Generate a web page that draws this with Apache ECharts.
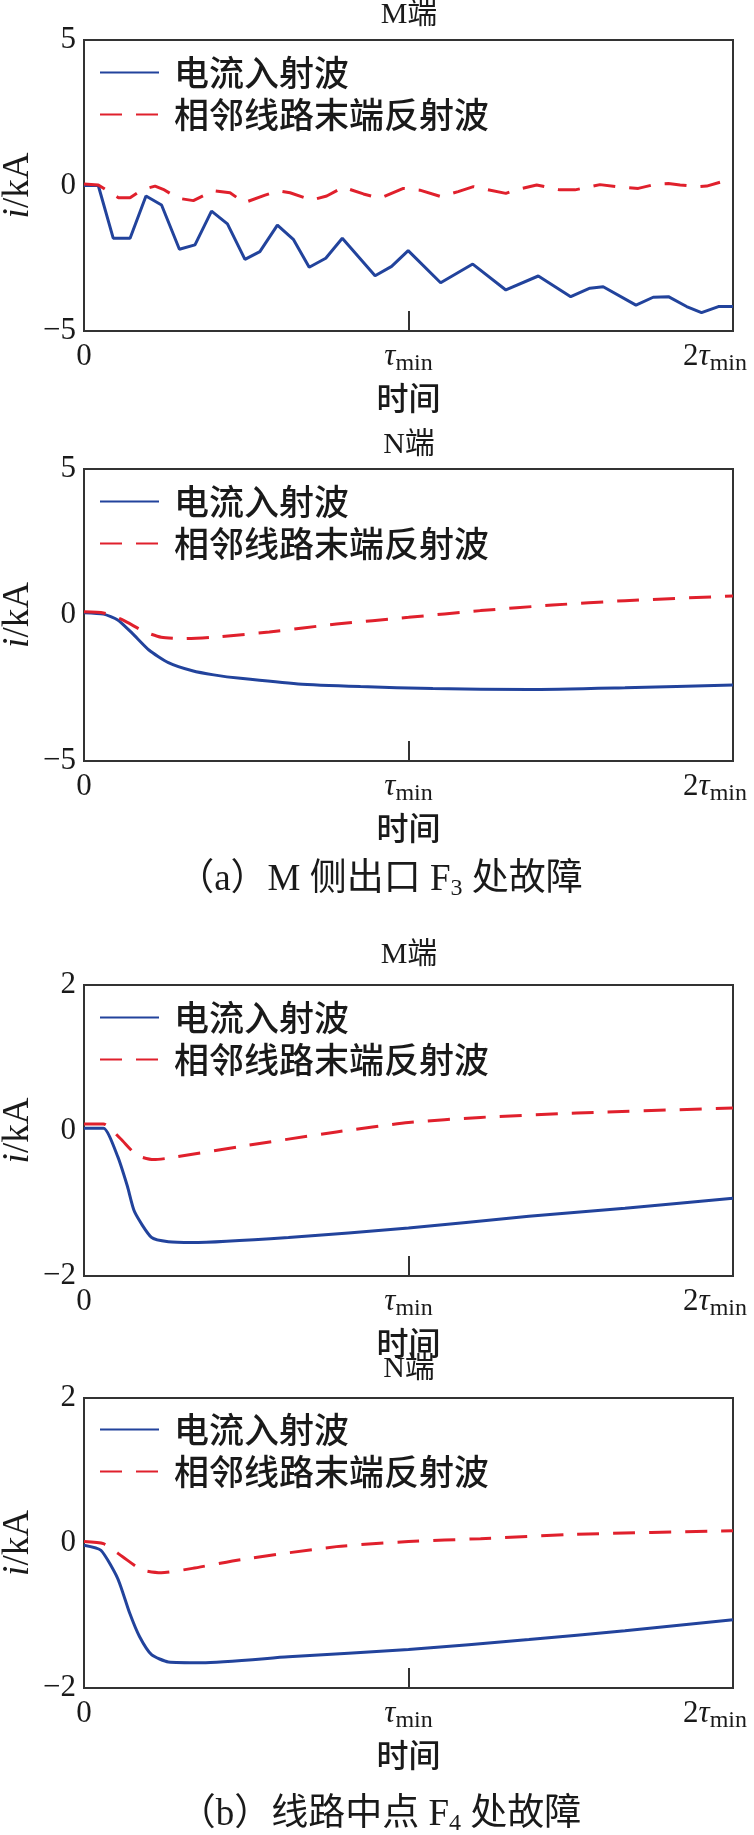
<!DOCTYPE html>
<html><head><meta charset="utf-8">
<script src="https://cdn.jsdelivr.net/npm/echarts@6/dist/echarts.min.js"></script>
<style>html,body{margin:0;padding:0;background:#fff}#c{width:754px;height:1835px}</style>
</head><body><div id="c"></div>
<script>
// ---------- data ----------
const seriesNames = ['电流入射波', '相邻线路末端反射波'];
const panelTitles = ['M端', 'N端', 'M端', 'N端'];
const captions = ['（a）M 侧出口 F{s|3} 处故障', '（b）线路中点 F{s|4} 处故障'];
const xTickValues = [0, 1, 2];
const xTickLabels = ['0', 'τmin', '2τmin'];
const yRangeA = [-5, 5];   // panels of (a)
const yRangeB = [-2, 2];   // panels of (b)
const yTickStepA = 5;
const yTickStepB = 2;

// (a) M端
const aM_inc_t = [0, 0.044, 0.090, 0.142, 0.191, 0.239, 0.294, 0.342, 0.393, 0.442, 0.496, 0.542, 0.596, 0.645, 0.694, 0.745, 0.796, 0.897, 0.948, 0.999, 1.099, 1.198, 1.300, 1.400, 1.500, 1.559, 1.600, 1.701, 1.754, 1.801, 1.857, 1.903, 1.955, 2.0];
const aM_inc_v = [0, 0, -1.81, -1.81, -0.36, -0.67, -2.19, -2.04, -0.88, -1.32, -2.54, -2.27, -1.36, -1.85, -2.81, -2.50, -1.81, -3.10, -2.78, -2.24, -3.34, -2.70, -3.59, -3.11, -3.82, -3.53, -3.48, -4.11, -3.84, -3.82, -4.16, -4.37, -4.16, -4.16];
const aM_ref_t = [0, 0.044, 0.106, 0.142, 0.178, 0.219, 0.244, 0.291, 0.337, 0.399, 0.450, 0.494, 0.558, 0.599, 0.635, 0.702, 0.748, 0.799, 0.861, 0.912, 0.984, 1.035, 1.100, 1.153, 1.200, 1.226, 1.300, 1.338, 1.395, 1.467, 1.513, 1.590, 1.641, 1.708, 1.764, 1.801, 1.837, 1.893, 1.919, 1.960];
const aM_ref_v = [0.05, 0.02, -0.42, -0.42, -0.15, -0.02, -0.13, -0.44, -0.52, -0.18, -0.25, -0.59, -0.33, -0.18, -0.25, -0.50, -0.36, -0.06, -0.29, -0.44, -0.10, -0.16, -0.38, -0.21, -0.04, -0.10, -0.27, -0.13, 0.02, -0.15, -0.15, 0.03, -0.04, -0.10, 0.05, 0.07, 0.02, -0.04, -0.02, 0.11];
// (a) N端
const aN_inc_t = [0, 0.06, 0.104, 0.149, 0.2, 0.26, 0.334, 0.40, 0.482, 0.66, 0.852, 1.075, 1.371, 1.667, 2.0];
const aN_inc_v = [0.08, 0.03, -0.17, -0.63, -1.2, -1.63, -1.91, -2.05, -2.17, -2.36, -2.45, -2.52, -2.55, -2.49, -2.40];
const aN_ref_t = [0, 0.06, 0.119, 0.186, 0.238, 0.304, 0.422, 0.571, 0.778, 1.0, 1.222, 1.444, 1.667, 2.0];
const aN_ref_v = [0.11, 0.07, -0.17, -0.57, -0.76, -0.81, -0.74, -0.58, -0.31, -0.08, 0.15, 0.34, 0.49, 0.65];
// (b) M端
const bM_inc_t = [0, 0.06, 0.104, 0.134, 0.156, 0.208, 0.26, 0.334, 0.63, 1.0, 1.371, 1.667, 2.0];
const bM_inc_v = [0.03, 0.03, -0.36, -0.77, -1.12, -1.47, -1.53, -1.54, -1.47, -1.34, -1.18, -1.07, -0.93];
const bM_ref_t = [0, 0.06, 0.112, 0.163, 0.215, 0.26, 0.482, 0.778, 1.0, 1.222, 1.519, 2.0];
const bM_ref_v = [0.09, 0.09, -0.11, -0.34, -0.40, -0.38, -0.22, -0.02, 0.11, 0.18, 0.24, 0.31];
// (b) N端
const bN_inc_t = [0, 0.052, 0.104, 0.141, 0.171, 0.208, 0.26, 0.364, 0.63, 1.0, 1.371, 1.667, 2.0];
const bN_inc_v = [-0.03, -0.10, -0.49, -0.97, -1.29, -1.54, -1.64, -1.65, -1.57, -1.47, -1.33, -1.21, -1.06];
const bN_ref_t = [0, 0.06, 0.119, 0.178, 0.238, 0.334, 0.482, 0.778, 1.0, 1.222, 1.519, 2.0];
const bN_ref_v = [0.02, -0.01, -0.19, -0.37, -0.41, -0.35, -0.23, -0.05, 0.02, 0.06, 0.12, 0.17];

// ---------- layout / style ----------
const SERIF = "'Liberation Serif','Noto Sans CJK SC',serif";
const CJK = "'Noto Sans CJK SC','Liberation Serif',sans-serif";
const TXT = '#1a1a1a';
const BLUE = '#22439c';
const RED = '#e0202c';
const grids = [
  {left: 84, top: 40, width: 649, height: 291},
  {left: 84, top: 469, width: 649, height: 292},
  {left: 84, top: 985, width: 649, height: 291},
  {left: 84, top: 1398, width: 649, height: 290}
];
const titleTops = [0, 430, 940, 1354];
const legendTops = [50, 479, 995, 1407];
const captionTops = [859, 1794];

const zip = (t, v) => t.map((x, i) => [x, v[i]]);
const panels = [
  [zip(aM_inc_t, aM_inc_v), zip(aM_ref_t, aM_ref_v)],
  [zip(aN_inc_t, aN_inc_v), zip(aN_ref_t, aN_ref_v)],
  [zip(bM_inc_t, bM_inc_v), zip(bM_ref_t, bM_ref_v)],
  [zip(bN_inc_t, bN_inc_v), zip(bN_ref_t, bN_ref_v)]
];

function xLabelRich(label, isMax) {
  const m = label.match(/^(\d*)(τ?)(min)?$/);
  let s = '';
  if (m[1]) s += '{n|' + m[1] + '}';
  if (m[2]) s += '{t|τ}';
  if (m[3]) s += (isMax ? '{mr|min}' : '{m|min}');
  return s;
}

const option = {
  animation: false,
  backgroundColor: '#fff',
  title: panelTitles.map((t, i) => ({
    text: t, left: 409, top: titleTops[i], textAlign: 'center', padding: 0,
    textStyle: {fontFamily: SERIF, fontSize: 30, fontWeight: 'normal', color: TXT, lineHeight: 30}
  })).concat(captions.map((c, i) => ({
    text: c, left: 380, top: captionTops[i], textAlign: 'center', padding: 0,
    textStyle: {fontFamily: SERIF, fontSize: 37, fontWeight: 'normal', color: TXT, lineHeight: 42,
      rich: {s: {fontFamily: SERIF, fontSize: 24, lineHeight: 32, verticalAlign: 'bottom', color: TXT}}}
  }))),
  legend: grids.map((g, i) => ({
    data: seriesNames, orient: 'vertical', left: 94, top: legendTops[i],
    itemWidth: 59, itemHeight: 14, itemGap: 7, selectedMode: false,
    itemStyle: {opacity: 0},
    textStyle: {fontFamily: CJK, fontSize: 35, fontWeight: 500, color: TXT, lineHeight: 35, padding: [0, 0, 0, 10]}
  })),
  grid: grids.map(g => Object.assign({show: true, borderColor: '#333', borderWidth: 2, backgroundColor: 'transparent',
    containLabel: false, outerBoundsMode: 'none'}, g)),
  xAxis: grids.map((g, i) => ({
    type: 'value', gridIndex: i, position: 'bottom', min: xTickValues[0], max: xTickValues[xTickValues.length - 1], interval: 1,
    name: '时间', nameLocation: 'middle', nameGap: 51,
    nameTextStyle: {fontFamily: CJK, fontSize: 32, fontWeight: 500, color: TXT},
    axisLine: {show: true, onZero: false, lineStyle: {color: '#333', width: 2}},
    axisTick: {show: true, inside: true, length: 20, lineStyle: {color: '#333', width: 2}},
    splitLine: {show: false},
    axisLabel: {
      margin: 14, color: TXT, fontFamily: SERIF, fontSize: 30,
      formatter: v => {
        const idx = xTickValues.indexOf(v);
        return xLabelRich(xTickLabels[idx], idx === xTickValues.length - 1);
      },
      rich: {
        n: {fontFamily: SERIF, fontSize: 31, lineHeight: 31, verticalAlign: 'bottom', padding: [0, 0, 4, 0], color: TXT},
        t: {fontFamily: SERIF, fontSize: 31, fontStyle: 'italic', lineHeight: 31, verticalAlign: 'bottom', padding: [0, 0, 4, 0], color: TXT},
        m: {fontFamily: SERIF, fontSize: 24, lineHeight: 24, verticalAlign: 'bottom', color: TXT},
        mr: {fontFamily: SERIF, fontSize: 24, lineHeight: 24, verticalAlign: 'bottom', padding: [0, 36, 0, 0], color: TXT}
      }
    }
  })),
  yAxis: grids.map((g, i) => {
    const r = i < 2 ? yRangeA : yRangeB;
    return {
      type: 'value', gridIndex: i, min: r[0], max: r[1], interval: i < 2 ? yTickStepA : yTickStepB,
      name: '{i|i}/kA', nameLocation: 'middle', nameRotate: 90, nameGap: 47, nameMoveOverlap: false,
      nameTextStyle: {fontFamily: SERIF, fontSize: 37, color: TXT,
        rich: {i: {fontFamily: SERIF, fontSize: 37, fontStyle: 'italic', color: TXT}}},
      axisLine: {show: false, onZero: false}, axisTick: {show: false}, splitLine: {show: false},
      axisLabel: {margin: 8, color: TXT, fontFamily: SERIF, fontSize: 31,
        formatter: v => v < 0 ? '−' + (-v) : String(v)}
    };
  }),
  series: []
};

panels.forEach((p, i) => {
  const smooth = i === 0 ? false : 0.2;
  option.series.push({
    type: 'line', name: seriesNames[0], xAxisIndex: i, yAxisIndex: i, data: p[0],
    symbol: 'none', smooth: smooth,
    lineStyle: {color: BLUE, width: 3, type: 'solid'}, itemStyle: {color: BLUE}
  });
  option.series.push({
    type: 'line', name: seriesNames[1], xAxisIndex: i, yAxisIndex: i, data: p[1],
    symbol: 'none', smooth: smooth,
    lineStyle: {color: RED, width: 3, type: [22, 14]}, itemStyle: {color: RED}
  });
});

const chart = echarts.init(document.getElementById('c'), null, {renderer: 'canvas'});
chart.setOption(option);
</script>
</body></html>
